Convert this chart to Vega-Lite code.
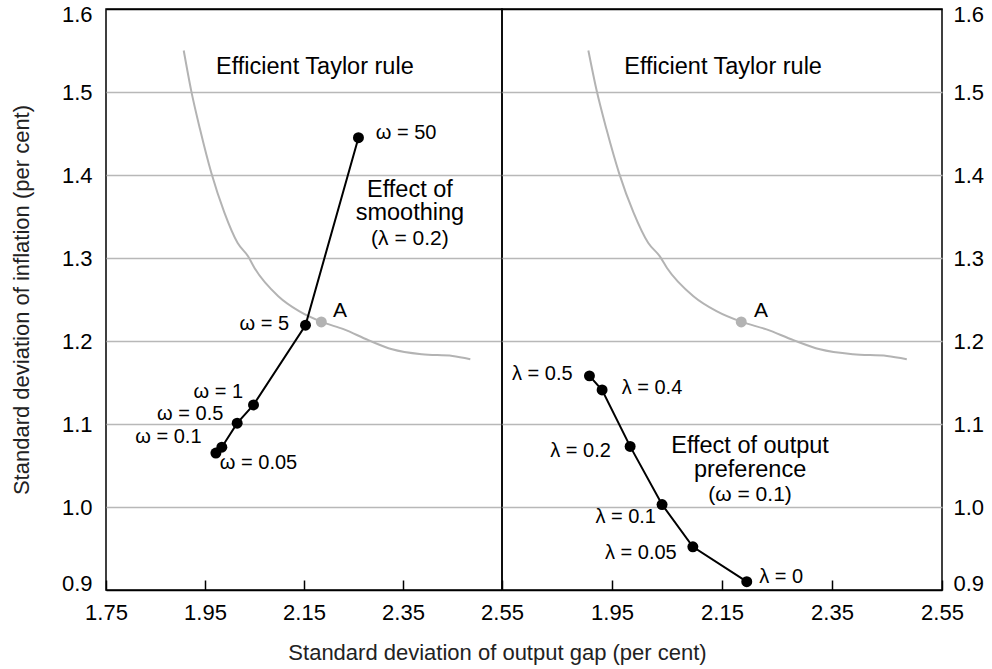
{
  "$schema": "https://vega.github.io/schema/vega-lite/v6.json",
  "background": "white",
  "padding": {"left": 9, "top": 2, "right": 5, "bottom": 5},
  "spacing": 0,
  "bounds": "flush",
  "config": {
    "font": "Liberation Sans",
    "view": {"stroke": "#000", "strokeWidth": 1.5},
    "axis": {
      "labelFont": "Liberation Sans", "titleFont": "Liberation Sans",
      "labelColor": "#000", "titleColor": "#222", "titleFontWeight": "normal",
      "labelFontSize": 22, "titleFontSize": 22, "domain": false
    },
    "text": {"font": "Liberation Sans", "color": "#000"}
  },
  "datasets": {
    "frontier": [
      {"x": 1.907, "y": 1.550}, {"x": 1.922, "y": 1.502}, {"x": 1.940, "y": 1.455},
      {"x": 1.963, "y": 1.402}, {"x": 1.989, "y": 1.355}, {"x": 2.016, "y": 1.318},
      {"x": 2.037, "y": 1.302}, {"x": 2.050, "y": 1.288}, {"x": 2.098, "y": 1.254},
      {"x": 2.140, "y": 1.236}, {"x": 2.186, "y": 1.223}, {"x": 2.231, "y": 1.214},
      {"x": 2.280, "y": 1.201}, {"x": 2.328, "y": 1.190}, {"x": 2.388, "y": 1.184},
      {"x": 2.450, "y": 1.182}, {"x": 2.486, "y": 1.178}
    ],
    "pointA": [{"x": 2.185, "y": 1.223}],
    "smoothing": [
      {"omega": 0.05, "x": 1.972, "y": 1.065}, {"omega": 0.1, "x": 1.984, "y": 1.072},
      {"omega": 0.5, "x": 2.015, "y": 1.101}, {"omega": 1, "x": 2.048, "y": 1.123},
      {"omega": 5, "x": 2.153, "y": 1.219}, {"omega": 50, "x": 2.260, "y": 1.445}
    ],
    "preference": [
      {"lambda": 0.5, "x": 1.909, "y": 1.158}, {"lambda": 0.4, "x": 1.932, "y": 1.141},
      {"lambda": 0.2, "x": 1.983, "y": 1.073}, {"lambda": 0.1, "x": 2.041, "y": 1.003},
      {"lambda": 0.05, "x": 2.097, "y": 0.952}, {"lambda": 0, "x": 2.195, "y": 0.910}
    ],
    "leftLabelsR": [
      {"text": "ω = 5", "x": 2.120, "y": 1.220}, {"text": "ω = 1", "x": 2.027, "y": 1.139},
      {"text": "ω = 0.5", "x": 1.987, "y": 1.112}, {"text": "ω = 0.1", "x": 1.943, "y": 1.084}
    ],
    "leftLabelsL": [
      {"text": "ω = 50", "x": 2.295, "y": 1.451}, {"text": "ω = 0.05", "x": 1.980, "y": 1.053}
    ],
    "leftA": [{"text": "A", "x": 2.2085, "y": 1.236}],
    "leftBig": [
      {"text": "Efficient Taylor rule", "x": 2.172, "y": 1.530},
      {"text": "Effect of", "x": 2.364, "y": 1.3815},
      {"text": "smoothing", "x": 2.364, "y": 1.3546}
    ],
    "leftSmall": [{"text": "(λ = 0.2)", "x": 2.364, "y": 1.3233}],
    "rightLabelsR": [
      {"text": "λ = 0.5", "x": 1.8785, "y": 1.1607}, {"text": "λ = 0.2", "x": 1.948, "y": 1.067},
      {"text": "λ = 0.1", "x": 2.030, "y": 0.988}, {"text": "λ = 0.05", "x": 2.0676, "y": 0.944}
    ],
    "rightLabelsL": [
      {"text": "λ = 0.4", "x": 1.9676, "y": 1.1434}, {"text": "λ = 0", "x": 2.2178, "y": 0.916}
    ],
    "rightA": [{"text": "A", "x": 2.2082, "y": 1.236}],
    "rightBig": [
      {"text": "Efficient Taylor rule", "x": 2.152, "y": 1.530},
      {"text": "Effect of output", "x": 2.201, "y": 1.073},
      {"text": "preference", "x": 2.201, "y": 1.045}
    ],
    "rightSmall": [{"text": "(ω = 0.1)", "x": 2.201, "y": 1.015}]
  },
  "hconcat": [
    {
      "width": 396, "height": 581,
      "encoding": {
        "x": {"field": "x", "type": "quantitative", "scale": {"domain": [1.75, 2.55], "nice": false, "zero": false},
          "axis": {"values": [1.75, 1.95, 2.15, 2.35, 2.55], "format": ".2f", "grid": false, "tickSize": -10, "tickColor": "#000", "tickWidth": 1.5, "labelPadding": 22, "labelFlush": false, "labelOverlap": false,
            "title": "Standard deviation of output gap (per cent)", "titleX": 391, "titleY": 62, "titleBaseline": "middle", "titleFontSize": 22}},
        "y": {"field": "y", "type": "quantitative", "scale": {"domain": [0.9, 1.6], "nice": false, "zero": false},
          "axis": {"values": [0.9, 1.0, 1.1, 1.2, 1.3, 1.4, 1.5, 1.6], "format": ".1f", "ticks": false, "labelPadding": 14, "labelFlush": true, "labelFlushOffset": 5, "labelOverlap": false,
            "grid": true, "gridWidth": 1.5,
            "gridColor": {"condition": {"test": "datum.value > 1.55 || datum.value < 0.95", "value": "#000"}, "value": "#b8b8b8"},
            "title": "Standard deviation of inflation (per cent)", "titlePadding": 28}}
      },
      "layer": [
        {"data": {"name": "frontier"}, "mark": {"type": "line", "color": "#b3b3b3", "strokeWidth": 2, "interpolate": "monotone"}},
        {"data": {"name": "pointA"}, "mark": {"type": "circle", "color": "#b3b3b3", "size": 120, "opacity": 1}},
        {"data": {"name": "smoothing"}, "mark": {"type": "line", "color": "#000", "strokeWidth": 2}},
        {"data": {"name": "smoothing"}, "mark": {"type": "circle", "color": "#000", "size": 120, "opacity": 1}},
        {"data": {"name": "leftLabelsR"}, "mark": {"type": "text", "align": "right", "baseline": "middle", "fontSize": 20}, "encoding": {"text": {"field": "text"}}},
        {"data": {"name": "leftLabelsL"}, "mark": {"type": "text", "align": "left", "baseline": "middle", "fontSize": 20}, "encoding": {"text": {"field": "text"}}},
        {"data": {"name": "leftA"}, "mark": {"type": "text", "align": "left", "baseline": "middle", "fontSize": 21}, "encoding": {"text": {"field": "text"}}},
        {"data": {"name": "leftBig"}, "mark": {"type": "text", "align": "center", "baseline": "middle", "fontSize": 23.5}, "encoding": {"text": {"field": "text"}}},
        {"data": {"name": "leftSmall"}, "mark": {"type": "text", "align": "center", "baseline": "middle", "fontSize": 21}, "encoding": {"text": {"field": "text"}}}
      ]
    },
    {
      "width": 440, "height": 581,
      "encoding": {
        "x": {"field": "x", "type": "quantitative", "scale": {"domain": [1.75, 2.55], "nice": false, "zero": false},
          "axis": {"values": [1.95, 2.15, 2.35, 2.55], "format": ".2f", "grid": false, "tickSize": -10, "tickColor": "#000", "tickWidth": 1.5, "labelPadding": 22, "labelFlush": false, "labelOverlap": false, "title": null}},
        "y": {"field": "y", "type": "quantitative", "scale": {"domain": [0.9, 1.6], "nice": false, "zero": false},
          "axis": {"orient": "right", "values": [0.9, 1.0, 1.1, 1.2, 1.3, 1.4, 1.5, 1.6], "format": ".1f", "ticks": false, "labelPadding": 11, "labelFlush": true, "labelFlushOffset": 5, "labelOverlap": false,
            "grid": true, "gridWidth": 1.5,
            "gridColor": {"condition": {"test": "datum.value > 1.55 || datum.value < 0.95", "value": "#000"}, "value": "#b8b8b8"},
            "title": null}}
      },
      "layer": [
        {"data": {"name": "frontier"}, "mark": {"type": "line", "color": "#b3b3b3", "strokeWidth": 2, "interpolate": "monotone"}},
        {"data": {"name": "pointA"}, "mark": {"type": "circle", "color": "#b3b3b3", "size": 120, "opacity": 1}},
        {"data": {"name": "preference"}, "mark": {"type": "line", "color": "#000", "strokeWidth": 2}},
        {"data": {"name": "preference"}, "mark": {"type": "circle", "color": "#000", "size": 120, "opacity": 1}},
        {"data": {"name": "rightLabelsR"}, "mark": {"type": "text", "align": "right", "baseline": "middle", "fontSize": 20}, "encoding": {"text": {"field": "text"}}},
        {"data": {"name": "rightLabelsL"}, "mark": {"type": "text", "align": "left", "baseline": "middle", "fontSize": 20}, "encoding": {"text": {"field": "text"}}},
        {"data": {"name": "rightA"}, "mark": {"type": "text", "align": "left", "baseline": "middle", "fontSize": 21}, "encoding": {"text": {"field": "text"}}},
        {"data": {"name": "rightBig"}, "mark": {"type": "text", "align": "center", "baseline": "middle", "fontSize": 23.5}, "encoding": {"text": {"field": "text"}}},
        {"data": {"name": "rightSmall"}, "mark": {"type": "text", "align": "center", "baseline": "middle", "fontSize": 21}, "encoding": {"text": {"field": "text"}}}
      ]
    }
  ]
}
